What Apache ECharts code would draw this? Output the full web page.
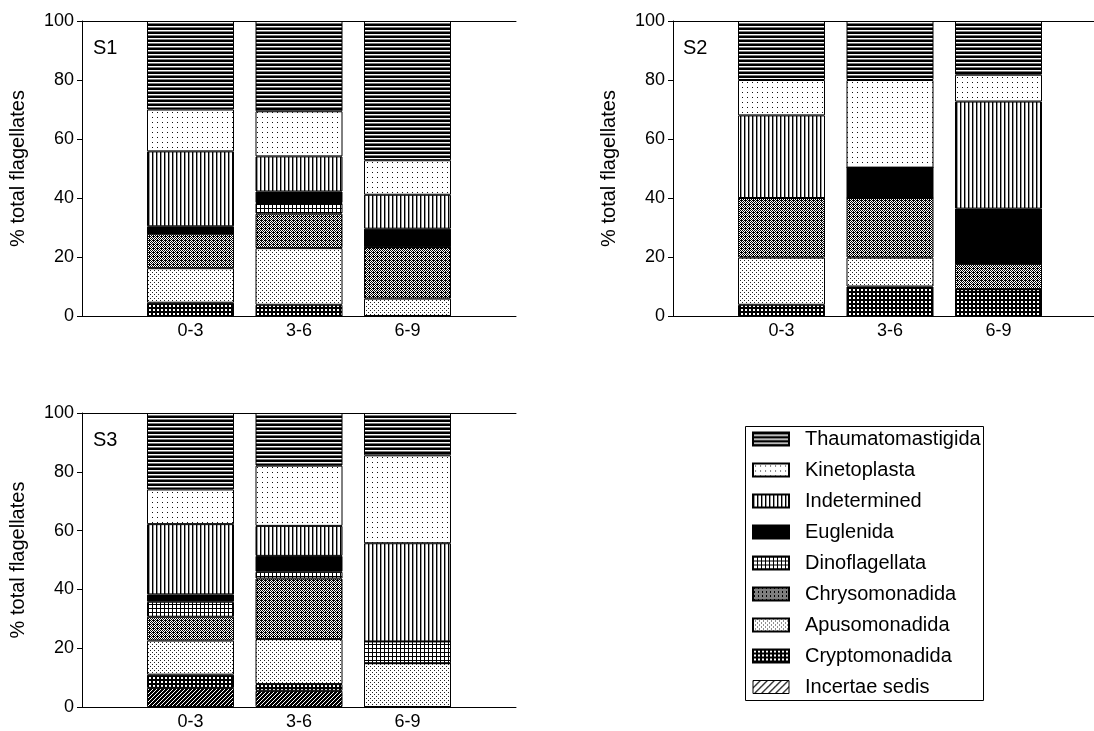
<!DOCTYPE html>
<html>
<head>
<meta charset="utf-8">
<script src="https://cdn.jsdelivr.net/npm/echarts@6/dist/echarts.min.js"></script>
<style>
  html, body { margin: 0; padding: 0; background: #fff; }
  #chart { width: 1094px; height: 731px; }
</style>
</head>
<body>
<div id="chart"></div>
<script>
// ---- data (values per panel [S1, S2, S3], each for categories 0-3, 3-6, 6-9) ----
const categories = ['0-3', '3-6', '6-9'];
const panels = ['S1', 'S2', 'S3'];
const yTicks = [0, 20, 40, 60, 80, 100];

const incertaeSedis     = [[0, 0, 0],        [0, 0, 0],         [6.5, 5.5, 0]];
const cryptomonadida    = [[4.5, 3.8, 0],    [3.8, 10.0, 9.1],  [4.5, 2.3, 0]];
const apusomonadida     = [[11.7, 19.2, 5.9],[16.0, 9.8, 0],    [11.6, 15.3, 14.9]];
const chrysomonadida    = [[11.7, 11.7, 17.4],[20.2, 20.2, 8.6],[8.1, 20.6, 0]];
const dinoflagellata    = [[0, 3.6, 0],      [0, 0, 0],         [5.1, 2.3, 7.4]];
const euglenida         = [[2.5, 3.9, 6.3],  [0, 10.3, 18.7],   [2.5, 5.4, 0]];
const indetermined      = [[25.4, 11.9, 11.5],[28.0, 0, 36.3],  [23.9, 10.2, 33.4]];
const kinetoplasta      = [[14.2, 15.3, 11.7],[12.0, 29.7, 9.1],[11.8, 20.5, 29.9]];
const thaumatomastigida = [[30.0, 30.6, 47.2],[20.0, 20.0, 18.2],[26.0, 17.9, 14.4]];

// stacking order bottom -> top
const taxa = [
  ['Incertae sedis', incertaeSedis],
  ['Cryptomonadida', cryptomonadida],
  ['Apusomonadida', apusomonadida],
  ['Chrysomonadida', chrysomonadida],
  ['Dinoflagellata', dinoflagellata],
  ['Euglenida', euglenida],
  ['Indetermined', indetermined],
  ['Kinetoplasta', kinetoplasta],
  ['Thaumatomastigida', thaumatomastigida]
];

// ---- patterns ----
function tile(w, h, fn) {
  const c = document.createElement('canvas');
  c.width = w; c.height = h;
  const ctx = c.getContext('2d');
  ctx.fillStyle = '#fff'; ctx.fillRect(0, 0, w, h);
  for (let y = 0; y < h; y++) for (let x = 0; x < w; x++) {
    const col = fn(x, y);
    if (col) { ctx.fillStyle = col; ctx.fillRect(x, y, 1, 1); }
  }
  return { image: c, repeat: 'repeat' };
}
const patterns = {
  'Thaumatomastigida': tile(4, 4, (x, y) => y < 2 ? '#000' : (y === 3 ? '#777' : null)),
  'Kinetoplasta': tile(5, 5, (x, y) => (x === 2 && y === 2) ? '#111' : null),
  'Indetermined': tile(4, 1, (x, y) => x === 0 ? '#000' : (x === 1 ? '#999' : null)),
  'Euglenida': '#000',
  'Dinoflagellata': tile(4, 4, (x, y) => (x === 0 || y === 0) ? '#000' : null),
  'Chrysomonadida': tile(4, 4, (x, y) => ((x + y) % 2 === 0 || (x === 1 && y === 0)) ? '#000' : null),
  'Apusomonadida': tile(4, 4, (x, y) => ((x === 0 && y === 0) || (x === 2 && y === 2)) ? '#222' : null),
  'Cryptomonadida': tile(4, 4, (x, y) => ((x === 1 || x === 2) && (y === 1 || y === 2)) ? null : '#000'),
  'Incertae sedis': tile(4, 4, (x, y) => ((x + y) % 4 === 1) ? null : '#000')
};
const incertaeLegend = tile(7, 7, (x, y) => (x + y) % 7 === 6 ? '#000' : ((x + y) % 7 === 0 ? '#666' : null));

// ---- layout ----
const grids = [
  { left: 82, top: 21, width: 434, height: 295, outerBoundsMode: 'none' },
  { left: 673, top: 21, width: 434, height: 295, outerBoundsMode: 'none' },
  { left: 82, top: 413, width: 434, height: 294, outerBoundsMode: 'none' }
];
const FONT = 'Liberation Sans, Arial, sans-serif';
// axis slots: an empty slot at each end so the three bars sit at 1/4, 2/4, 3/4 of the axis
const axisSlots = [''].concat(categories, ['']);

const xAxes = [], yAxes = [];
grids.forEach((g, i) => {
  xAxes.push({
    type: 'category', gridIndex: i, data: axisSlots, boundaryGap: false, position: 'bottom',
    axisLine: { lineStyle: { color: '#000', width: 1 } },
    axisTick: { show: false }, splitLine: { show: false },
    axisLabel: { fontSize: 18, fontFamily: FONT, color: '#000', margin: 6, interval: 0 }
  });
});
grids.forEach((g, i) => {
  xAxes.push({
    type: 'category', gridIndex: i, data: axisSlots, boundaryGap: false, position: 'top',
    axisLine: { onZero: false, lineStyle: { color: '#000', width: 1 } },
    axisTick: { show: false }, splitLine: { show: false }, axisLabel: { show: false }
  });
  yAxes.push({
    type: 'value', gridIndex: i, min: 0, max: 100, interval: 20,
    axisLine: { show: true, lineStyle: { color: '#000', width: 1 } },
    axisTick: { show: true, length: 5, lineStyle: { color: '#000' } },
    splitLine: { show: false },
    axisLabel: { fontSize: 18, fontFamily: FONT, color: '#000', margin: 8 },
    name: '% total flagellates', nameLocation: 'middle', nameRotate: 90, nameGap: 54,
    nameTextStyle: { fontSize: 20, fontFamily: FONT, color: '#000' }
  });
});

const series = [];
panels.forEach((p, pi) => {
  taxa.forEach(([name, arr]) => {
    series.push({
      type: 'bar', name, xAxisIndex: pi, yAxisIndex: pi, stack: 'stack' + pi,
      barWidth: 87,
      data: ['-'].concat(arr[pi], ['-']),
      itemStyle: { color: patterns[name], borderColor: '#000', borderWidth: 1 },
      emphasis: { disabled: true },
      animation: false
    });
  });
});

const legendData = taxa.slice().reverse().map(([name]) => (
  name === 'Incertae sedis'
    ? { name, itemStyle: { color: incertaeLegend, borderColor: '#000', borderWidth: 1 } }
    : { name }
));

const option = {
  animation: false,
  grid: grids,
  xAxis: xAxes,
  yAxis: yAxes,
  series,
  legend: {
    data: legendData, orient: 'vertical', left: 752, top: 429, padding: 0,
    icon: 'rect', itemWidth: 36, itemHeight: 13, itemGap: 11,
    selectedMode: false,
    textStyle: { fontSize: 20, fontFamily: FONT, color: '#000', lineHeight: 20, padding: [0, 0, 0, 11] }
  },
  graphic: [
    { type: 'text', left: 93, top: 38, style: { text: 'S1', font: '20px ' + FONT, fill: '#000' } },
    { type: 'text', left: 683, top: 38, style: { text: 'S2', font: '20px ' + FONT, fill: '#000' } },
    { type: 'text', left: 93, top: 430, style: { text: 'S3', font: '20px ' + FONT, fill: '#000' } },
    { type: 'rect', left: 743, top: 424, shape: { width: 238, height: 274 },
      style: { fill: 'none', stroke: '#000', lineWidth: 1 }, silent: true }
  ]
};

const chart = echarts.init(document.getElementById('chart'), null, { renderer: 'canvas' });
chart.setOption(option);
</script>
</body>
</html>
